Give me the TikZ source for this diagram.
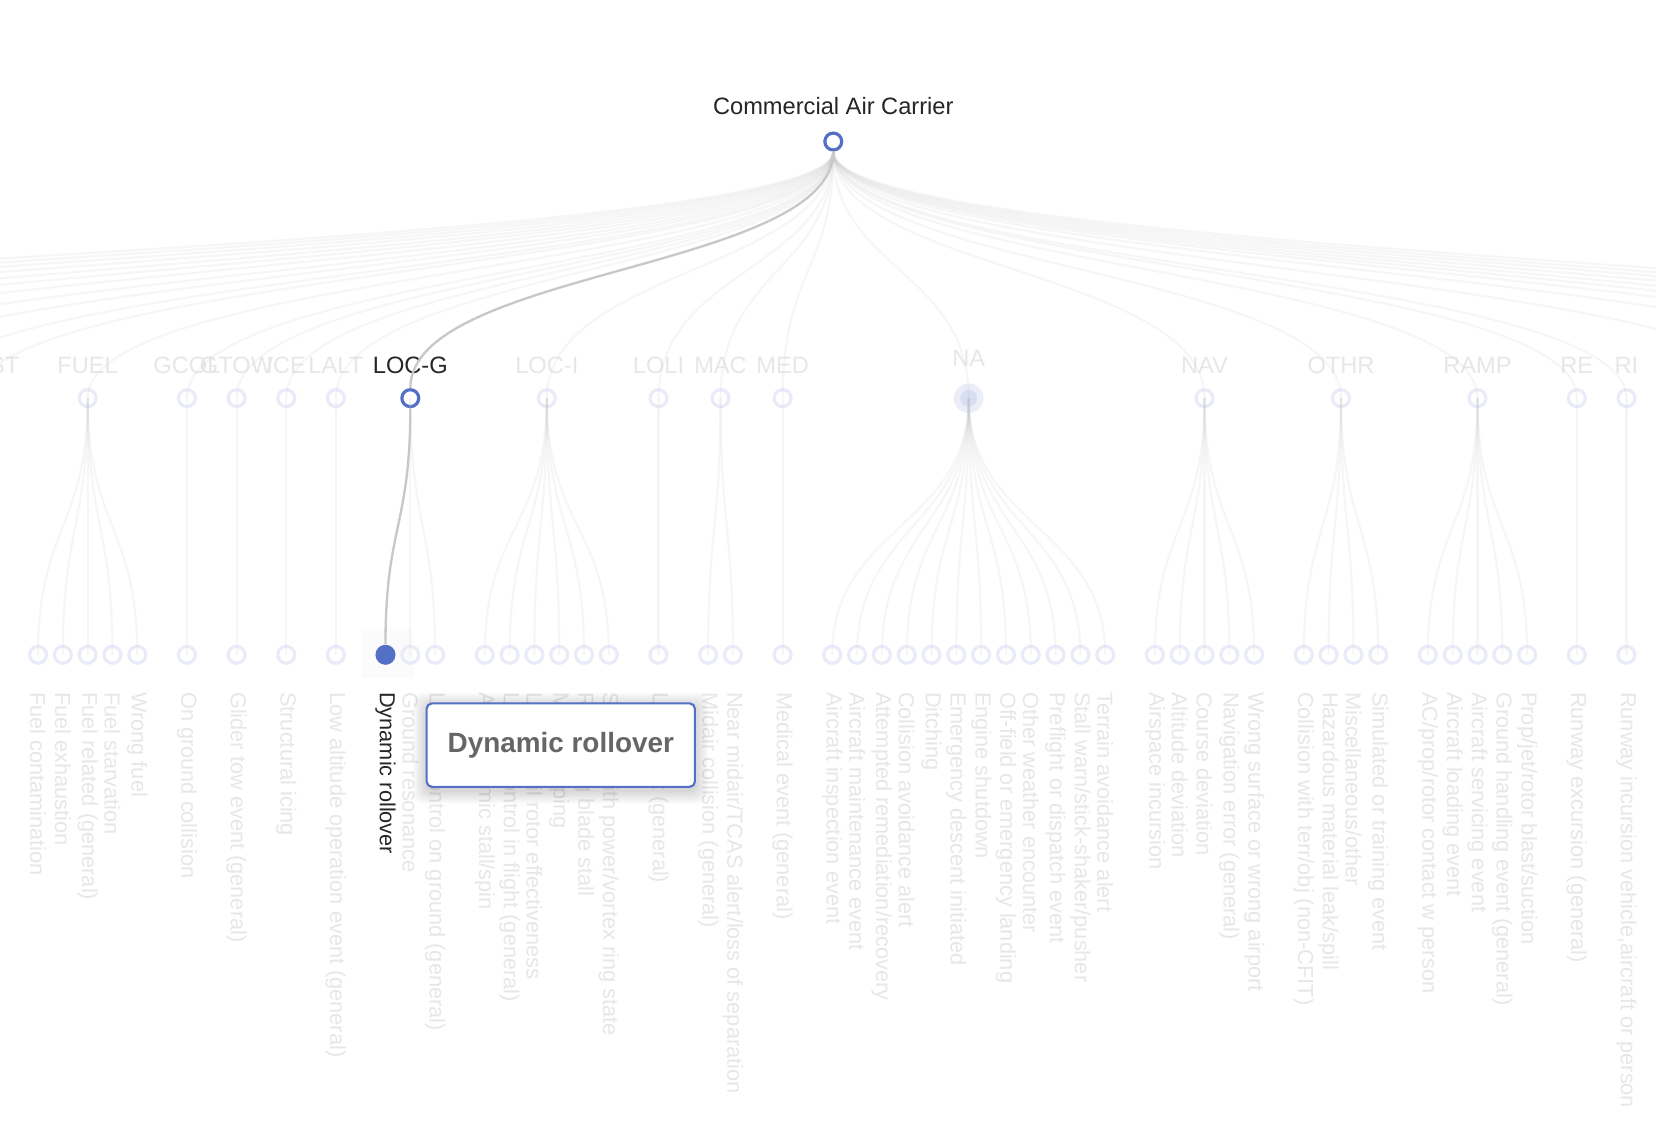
\documentclass[tikz,border=0pt]{standalone}
\usepackage{fontspec}
\setmainfont{Liberation Sans}
\definecolor{nodeblue}{RGB}{84,112,198}
\definecolor{linkgray}{RGB}{200,200,200}
\definecolor{fadetext}{RGB}{231,231,231}
\definecolor{darktext}{RGB}{38,38,38}
\definecolor{tiptext}{RGB}{102,102,102}
\tikzset{
  ring/.style={circle, draw=nodeblue!13, line width=1.5pt, minimum size=8pt, inner sep=0pt},
  activering/.style={ring, draw=nodeblue, fill=white},
  activedot/.style={circle, fill=nodeblue, minimum size=9.5pt, inner sep=0pt},
  nadot/.style={circle, fill=nodeblue, fill opacity=.12, minimum size=8pt, inner sep=0pt},
  codelabel/.style={anchor=base, inner sep=0pt, text=fadetext, font=\fontsize{11.2}{13}\selectfont},
  leaflabel/.style={anchor=west, rotate=-90, inner sep=0pt, text=fadetext, font=\fontsize{10.3}{12}\selectfont},
  fadelink/.style={draw=linkgray, draw opacity=.15, line width=1pt},
  pathlink/.style={draw=linkgray, line width=1.1pt},
  tipbox/.style={draw=nodeblue, line width=1pt, fill=white, rounded corners=2.5pt,
    minimum width=127pt, minimum height=39.5pt, text=tiptext,
    font=\bfseries\fontsize{13.2}{15}\selectfont}
}
\begin{document}
\begin{tikzpicture}[x=0.5pt, y=-0.5pt]
	\useasboundingbox (0,0) rectangle (1568,1066);
	\clip (0,0) rectangle (1568,1066);
	\fill[white] (0,0) rectangle (1568,1066);
	\coordinate (midA) at (0,255.5);
	\coordinate (midB) at (0,498.5);
	\fill[black!1.5] (343,596) rectangle (391,642);
	\fill[nodeblue!12] (917.25,377) circle (7pt);

	\node[activering] (root) at (789,134) {};
	\node[codelabel, text=darktext] (root-lab) at (789,108) {Commercial Air Carrier};

	\foreach \n/\x/\t in {fpost/-22.75/F-POST, fuel/83/FUEL, gcol/177/GCOL, gtow/224/GTOW, ice/271/ICE, lalt/318/LALT, loci/517.75/LOC-I, loli/623.5/LOLI, mac/682.25/MAC, med/741/MED, nav/1140.5/NAV, othr/1269.75/OTHR, ramp/1399/RAMP, re/1493/RE, ri/1540/RI} {
		\node[ring] (\n) at (\x,377) {};
		\node[codelabel] (\n-lab) at (\x,353.5) {\t};
	}
	\node[nadot] (na) at (917.25,377) {};
	\node[codelabel] (na-lab) at (917.25,347) {NA};
	\node[activering] (locg) at (388.5,377) {};
	\node[codelabel, text=darktext] (locg-lab) at (388.5,353.5) {LOC-G};

	\foreach \n/\x in {offl1/-82, offl2/-176, offl3/-270, offl4/-388, offl5/-506, offl6/-624, offl7/-765, offl8/-906, offl9/-1047, offl10/-1188, offr1/1680, offr2/1810, offr3/1905, offr4/1980, offr5/2055, offr6/2140, offr7/2230, offr8/2320, offr9/2420}
		\coordinate (\n) at (\x,377);

	\foreach \n in {offl1, offl2, offl3, offl4, offl5, offl6, offl7, offl8, offl9, offl10, fpost, fuel, gcol, gtow, ice, lalt, loci, loli, mac, med, na, nav, othr, ramp, re, ri, offr1, offr2, offr3, offr4, offr5, offr6, offr7, offr8, offr9}
		\draw[fadelink] (root.south) .. controls (root |- midA) and (\n |- midA) .. (\n.center);

	\foreach \p/\x/\t [count=\i] in {fuel/36/{Fuel contamination}, fuel/59.5/{Fuel exhaustion}, fuel/83/{Fuel related (general)}, fuel/106.5/{Fuel starvation}, fuel/130/{Wrong fuel},
		gcol/177/{On ground collision}, gtow/224/{Glider tow event (general)}, ice/271/{Structural icing}, lalt/318/{Low altitude operation event (general)},
		locg/388.5/{Ground resonance}, locg/412/{Loss of control on ground (general)},
		loci/459/{Aerodynamic stall/spin}, loci/482.5/{Loss of control in flight (general)}, loci/506/{Loss of tail rotor effectiveness}, loci/529.5/{Mast bumping}, loci/553/{Retreating blade stall}, loci/576.5/{Settling with power/vortex ring state},
		loli/623.5/{Loss of lift (general)}, mac/670.5/{Midair collision (general)}, mac/694/{Near midair/TCAS alert/loss of separation}, med/741/{Medical event (general)},
		na/788/{Aircraft inspection event}, na/811.5/{Aircraft maintenance event}, na/835/{Attempted remediation/recovery}, na/858.5/{Collision avoidance alert}, na/882/{Ditching}, na/905.5/{Emergency descent initiated}, na/929/{Engine shutdown}, na/952.5/{Off-field or emergency landing}, na/976/{Other weather encounter}, na/999.5/{Preflight or dispatch event}, na/1023/{Stall warn/stick-shaker/pusher}, na/1046.5/{Terrain avoidance alert},
		nav/1093.5/{Airspace incursion}, nav/1117/{Altitude deviation}, nav/1140.5/{Course deviation}, nav/1164/{Navigation error (general)}, nav/1187.5/{Wrong surface or wrong airport},
		othr/1234.5/{Collision with terr/obj (non-CFIT)}, othr/1258/{Hazardous material leak/spill}, othr/1281.5/{Miscellaneous/other}, othr/1305/{Simulated or training event},
		ramp/1352/{AC/prop/rotor contact w person}, ramp/1375.5/{Aircraft loading event}, ramp/1399/{Aircraft servicing event}, ramp/1422.5/{Ground handling event (general)}, ramp/1446/{Prop/jet/rotor blast/suction},
		re/1493/{Runway excursion (general)}, ri/1540/{Runway incursion vehicle,aircraft or person}} {
		\node[ring] (leaf\i) at (\x,620) {};
		\node[leaflabel] (leaf\i-lab) at (\x,655) {\t};
		\draw[fadelink] (\p.center) .. controls (\p |- midB) and (leaf\i |- midB) .. (leaf\i.center);
	}

	\node[activedot] (dynroll) at (365,620) {};
	\node[leaflabel, text=darktext] (dynroll-lab) at (365,655) {Dynamic rollover};
	\draw[pathlink] (root.south) .. controls (root |- midA) and (locg |- midA) .. (locg.north);
	\draw[pathlink] (locg.south) .. controls (locg |- midB) and (dynroll |- midB) .. (dynroll.north);

	\foreach \s in {1,...,8}
		\fill[black, opacity=.018, rounded corners=4pt] (404-1.6*\s,669-1.6*\s) rectangle (658+1.6*\s,748+1.6*\s);
	\node[tipbox] (tip) at (531,705.5) {Dynamic rollover};
\end{tikzpicture}
\end{document}
